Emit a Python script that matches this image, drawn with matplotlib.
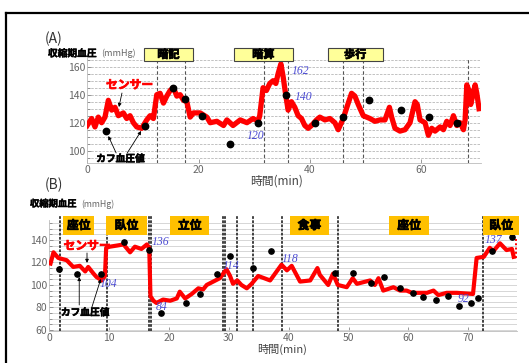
import matplotlib
matplotlib.use("Agg")
import matplotlib.pyplot as plt
from matplotlib.lines import Line2D
from matplotlib.patches import Rectangle
import matplotlib.patheffects as pe
import numpy as np

plt.rcParams['font.family'] = ['Noto Sans CJK JP', 'DejaVu Sans']

# ---- (A) sensor trace and cuff readings ----
a_t = [0.0, 0.8, 1.4, 2.0, 2.6, 3.2, 3.8, 4.4, 5.0, 5.6, 6.5, 7.1, 7.7, 8.3, 8.9, 9.8, 10.7,
       11.3, 11.9, 12.5, 13.1, 13.7, 14.3, 14.9, 15.5, 16.1, 16.7, 17.3, 17.9, 18.5, 19.1,
       20.3, 21.5, 22.1, 23.3, 24.5, 25.1, 26.2, 27.5, 28.7, 29.8, 30.7, 31.0, 31.6, 32.2,
       32.8, 33.4, 33.9, 34.3, 34.8, 35.2, 35.7, 36.1, 36.7, 37.3, 37.9, 38.5, 39.1, 39.7,
       40.3, 41.2, 41.8, 42.7, 43.6, 44.5, 45.1, 46.0, 46.9, 47.5, 48.1, 48.7, 49.6, 50.8,
       51.7, 52.6, 53.5, 54.3, 54.7, 55.3, 56.2, 57.1, 58.0, 58.9, 59.3, 59.8, 60.7, 61.3,
       61.9, 62.5, 63.4, 64.0, 64.6, 65.2, 65.8, 66.4, 67.0, 67.6, 67.9, 68.2, 68.6, 68.9,
       69.3, 69.7, 70.0, 70.4]
a_v = [118, 123, 117, 124, 120, 124, 136, 129, 131, 125, 127, 123, 125, 120, 117, 116, 122,
       125, 123, 140, 141, 134, 139, 143, 145, 139, 140, 136, 135, 124, 127,
       127, 124, 120, 121, 118, 122, 118, 122, 120, 123, 121, 125, 145, 143,
       148, 150, 148, 155, 162, 153, 139, 129, 135, 131, 125, 123, 118, 116,
       118, 122, 124, 122, 123, 120, 115, 123, 134, 141, 139, 133, 125, 123,
       121, 122, 122, 131, 124, 116, 114, 115, 120, 135, 133, 122, 120, 111,
       116, 114, 117, 115, 121, 118, 125, 118, 120, 115, 122, 147, 143, 133,
       140, 147, 141, 130]
cuff_a_t = [3.4, 10.4, 15.4, 17.6, 20.6, 25.7, 30.7, 35.8, 40.9, 46.0, 50.7, 56.3, 61.4, 66.5]
cuff_a_v = [114, 118, 145, 137, 125, 105, 120, 140, 120, 124, 136, 129, 124, 120]
events_a = [12.5, 17.6, 31.8, 36.0, 46.0, 49.6, 68.5]
tasks_a = ["暗記", "暗算", "歩行"]
task_a_span = [(10.2, 19.0), (26.4, 36.9), (43.2, 53.1)]
# value labels: (time, value) of the annotated mark
notes_a = [(34.8, 162), (35.8, 140), (30.7, 120)]

# ---- (B) sensor trace and cuff readings ----
b_t = [0.2, 0.7, 1.5, 2.9, 4.0, 5.1, 6.0, 6.5, 7.4, 7.9, 8.8, 9.3, 9.5, 10.1, 11.3,
       12.4, 13.5, 14.3, 15.4, 16.3, 16.7, 16.9, 17.4, 17.9, 19.0, 20.2, 21.3, 21.8, 22.7,
       23.8, 24.9, 25.7, 26.3, 27.4, 28.5, 29.6, 30.2, 30.7, 31.4, 32.1, 33.0, 33.8, 34.9,
       36.9, 38.8, 39.7, 40.5, 41.9, 43.6, 44.8, 45.2, 46.6, 47.4, 48.2, 49.7, 50.7, 51.4,
       53.6, 54.4, 55.0, 55.8, 57.5, 58.6, 59.7, 60.6, 63.1, 64.2, 65.0, 66.4, 68.1, 70.8,
       71.4, 72.6, 73.6, 74.2, 75.3, 76.4, 77.3, 77.6]
b_v = [119, 129, 124, 122, 116, 117, 112, 116, 110, 107, 104, 108, 133, 134, 135,
       136, 129, 134, 132, 136, 133, 90, 86, 84, 87, 86, 88, 94, 88,
       92, 97, 96, 100, 103, 106, 114, 108, 101, 104, 100, 97, 101, 108,
       104, 118, 113, 117, 103, 104, 115, 109, 100, 110, 100, 98, 106, 101,
       104, 100, 106, 95, 98, 95, 95, 93, 93, 95, 91, 93, 93, 92,
       124, 125, 133, 130, 137, 131, 132, 125]
tail_b_t = [77.9, 77.9]
tail_b_v = [141, 122]
cuff_b_t = [1.7, 4.7, 8.6, 12.5, 16.7, 18.6, 22.8, 25.1, 28.1, 30.2, 34.0, 37.0, 47.7,
            50.7, 53.8, 55.9, 58.6, 60.7, 62.5, 64.6, 66.6, 68.5, 70.4, 71.7, 73.9, 77.3]
cuff_b_v = [114, 110, 110, 138, 131, 75, 84, 92, 110, 126, 115, 130, 111,
            111, 102, 107, 97, 93, 89, 87, 90, 81, 84, 88, 130, 143]
events_b = [1.8, 9.6, 16.7, 17.0, 29.0, 29.4, 31.3, 34.1, 38.8, 48.2, 72.5]
tasks_b = ["座位", "臥位", "立位", "食事", "座位", "臥位"]
task_b_span = [(2.3, 7.5), (9.5, 16.3), (20.2, 26.7), (40.2, 46.7), (56.8, 63.4), (72.5, 78.5)]
notes_b = [(16.3, 136), (8.8, 104), (17.9, 84), (29.6, 114), (38.8, 118), (70.8, 92), (75.3, 137)]

W, H = 529, 363


def fpos(x, y):
    return x / W, 1 - y / H


def heavy(color='black', w=0.5):
    # thicken CJK glyphs a little
    return [pe.withStroke(linewidth=w, foreground=color)]


fig = plt.figure(figsize=(W / 100, H / 100), dpi=100)

# outer frame (top and left edges only are inside the canvas)
fig.add_artist(Line2D([6 / W, 1.02], [1 - 13 / H] * 2, color='black', lw=1.6, transform=fig.transFigure))
fig.add_artist(Line2D([6 / W] * 2, [-0.02, 1 - 13 / H], color='black', lw=1.6, transform=fig.transFigure))

axA = fig.add_axes([0.1648, 0.5501, 0.7439, 0.2893])
axB = fig.add_axes([0.0932, 0.0879, 0.8847, 0.3069])

blue = '#4b4bd2'
for ax in (axA, axB):
    for s in ('top', 'right'):
        ax.spines[s].set_visible(False)
    for s in ('left', 'bottom'):
        ax.spines[s].set_color('#bbbbbb')
        ax.spines[s].set_linewidth(0.6)
    ax.tick_params(which='both', direction='in', colors='#888888', labelcolor='#666666',
                   labelsize=7.5, length=3, width=0.6, pad=1.5)
    ax.tick_params(which='minor', length=2)
    ax.set_facecolor('none')

# ---- panel A ----
axA.set_xlim(0, 70.7)
axA.set_ylim(91, 166)
axA.set_xticks([0, 20, 40, 60])
axA.set_yticks([100, 120, 140, 160])
axA.set_yticks(np.arange(95, 166, 5), minor=True)
axA.grid(axis='y', which='both', color='#b8b8b8', lw=0.6, ls=(0, (3, 1.5)))
axA.set_axisbelow(True)
axA.vlines(events_a, 91, 166, colors='#555555', lw=0.8, linestyles=(0, (3, 2)))
axA.plot(a_t, a_v, color='#ff0000', lw=3.8, solid_joinstyle='round', zorder=3)
axA.plot(cuff_a_t, cuff_a_v, 'o', color='black', ms=4.6, zorder=4)

for name, (t0, t1) in zip(tasks_a, task_a_span):
    axA.add_patch(Rectangle((t0, 164.1), t1 - t0, 9.3, facecolor='#ffff99', edgecolor='#444444',
                            lw=0.8, clip_on=False, zorder=5))
    axA.text((t0 + t1) / 2, 168.7, name, ha='center', va='center', fontsize=8,
             fontweight='bold', clip_on=False, zorder=6, path_effects=heavy())

offs_a = [(8, -4.8), (6.1, -1.7), (-8, -9.6)]
for (t, v), off in zip(notes_a, offs_a):
    axA.annotate(str(v), (t, v), xytext=off, textcoords='offset points', ha='left', va='center',
                 fontsize=8.5, color=blue, style='italic', family='Liberation Serif', zorder=6)

arrow = dict(arrowstyle='-|>', color='black', lw=0.6, mutation_scale=5, shrinkA=0, shrinkB=0)
axA.text(7.6, 146.9, "センサー", color='#ff0000', fontsize=8.5, fontweight='bold',
         ha='center', va='center', zorder=6, path_effects=heavy('#ff0000'))
axA.annotate("", (5.7, 131.2), xytext=(6.25, 141.2), arrowprops=arrow, zorder=6)
axA.text(6.0, 94.3, "カフ血圧値", fontsize=7, fontweight='bold', ha='center', va='center',
         zorder=6, path_effects=heavy(w=0.4))
axA.annotate("", (3.8, 110.5), xytext=(5.2, 98.4), arrowprops=arrow, zorder=6)
axA.annotate("", (9.7, 114.1), xytext=(7.2, 98.4), arrowprops=arrow, zorder=6)

# ---- panel B ----
axB.set_xlim(0, 78.2)
axB.set_ylim(59, 158)
axB.set_xticks(np.arange(0, 71, 10))
axB.set_yticks([60, 80, 100, 120, 140])
axB.set_yticks(np.arange(60, 156, 5), minor=True)
axB.grid(axis='y', which='both', color='#d0d0d0', lw=0.6)
axB.set_axisbelow(True)
axB.vlines(events_b, 59, 161, colors='#333333', lw=1.3, linestyles=(0, (1.5, 0.8)), clip_on=False)
axB.plot(b_t, b_v, color='#ff0000', lw=3.0, solid_joinstyle='round', zorder=3)
axB.plot(tail_b_t, tail_b_v, color='#ff0000', lw=1.4, ls=(0, (1, 1.2)), zorder=3)
axB.plot(cuff_b_t, cuff_b_v, 'o', color='black', ms=3.8, zorder=4)

for name, (t0, t1) in zip(tasks_b, task_b_span):
    axB.add_patch(Rectangle((t0, 144.4), t1 - t0, 16.9, facecolor='#ffc000', edgecolor='none',
                            clip_on=False, zorder=5))
    axB.text((t0 + t1) / 2, 152.8, name, ha='center', va='center', fontsize=8.5,
             fontweight='bold', clip_on=False, zorder=6, path_effects=heavy())

offs_b = [(3.7, 1.4), (-1.4, -2.5), (-0.3, -2.9), (-2.7, 2.5), (0.1, 4.1), (-10.8, -3.6), (-10.8, 2.4)]
for (t, v), off in zip(notes_b, offs_b):
    axB.annotate(str(v), (t, v), xytext=off, textcoords='offset points', ha='left', va='center',
                 fontsize=8.5, color=blue, style='italic', family='Liberation Serif', zorder=6)

axB.text(6.3, 134.7, "センサー", color='#ff0000', fontsize=8.5, fontweight='bold',
         ha='center', va='center', zorder=6, path_effects=heavy('#ff0000'))
axB.annotate("", (6.3, 119.6), xytext=(6.3, 128.4), arrowprops=arrow, zorder=6)
axB.text(6.0, 75.6, "カフ血圧値", fontsize=7, fontweight='bold', ha='center', va='center',
         zorder=6, path_effects=heavy(w=0.4))
axB.annotate("", (5.0, 107.1), xytext=(5.0, 82.2), arrowprops=arrow, zorder=6)
axB.annotate("", (8.6, 105.3), xytext=(7.1, 80.0), arrowprops=arrow, zorder=6)

# ---- titles and axis captions ----
fig.text(*fpos(45, 39), "(A)", fontsize=10, color='#333333', va='center', ha='left')
fig.text(*fpos(48, 53.5), "収縮期血圧", fontsize=7, fontweight='bold', va='center', ha='left',
         path_effects=heavy(w=0.3))
fig.text(*fpos(101, 53.5), "(mmHg)", fontsize=6.5, color='#666666', va='center', ha='left')
fig.text(*fpos(276.5, 181), "時間(min)", fontsize=8.5, color='#444444', va='center', ha='center')

fig.text(*fpos(45, 185), "(B)", fontsize=10, color='#333333', va='center', ha='left')
fig.text(*fpos(30, 204), "収縮期血圧", fontsize=6.7, fontweight='bold', va='center', ha='left',
         path_effects=heavy(w=0.3))
fig.text(*fpos(81.5, 204), "(mmHg)", fontsize=6.3, color='#666666', va='center', ha='left')
fig.text(*fpos(282.5, 349), "時間(min)", fontsize=8, color='#444444', va='center', ha='center')

fig.savefig("out.png", dpi=100)
